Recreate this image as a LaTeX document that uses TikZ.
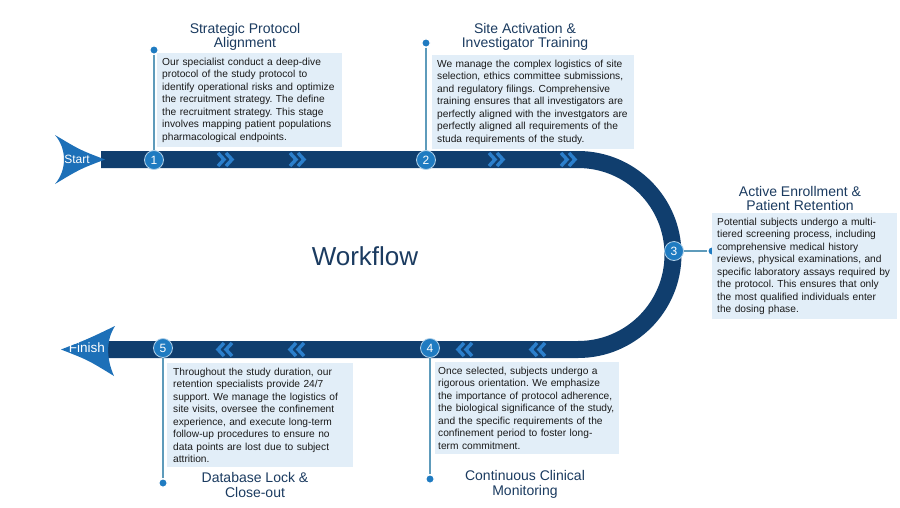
\documentclass[tikz,border=0pt]{standalone}
\usepackage{fontspec}
\setmainfont{Liberation Sans}
\usetikzlibrary{calc}
\frenchspacing

\definecolor{bandnavy}{HTML}{103E6E}
\definecolor{chevblue}{HTML}{2B7FCC}
\definecolor{markblue}{HTML}{1F7BC1}
\definecolor{arrowblue}{HTML}{1D70B8}
\definecolor{boxfill}{HTML}{E2EEF8}
\definecolor{titlenavy}{HTML}{1B3B60}
\definecolor{stalkblue}{HTML}{5E9BBB}
\definecolor{bodytext}{HTML}{1A1A1A}

\begin{document}
\begin{tikzpicture}[x=1pt, y=-1pt,
    band/.style={draw=bandnavy, line width=17pt},
    chev/.style={draw=chevblue, line width=3.4pt},
    stalk/.style={draw=stalkblue, line width=1.3pt},
    marker/.style={circle, fill=markblue, draw=white!65!markblue, line width=0.8pt,
        minimum size=19pt, inner sep=0pt, text=white, font=\fontsize{12}{12}\selectfont},
    pin/.style={circle, fill=markblue, draw=white, line width=1.2pt, minimum size=8.5pt, inner sep=0pt},
    stepbox/.style={fill=boxfill, anchor=north west, align=left, inner xsep=5pt, inner ysep=4.5pt,
        text=bodytext, font=\fontsize{10.2}{12.5}\selectfont},
    steptitle/.style={align=center, text=titlenavy, font=\fontsize{14}{14.5}\selectfont},
    tip/.style={fill=arrowblue, draw=none}]
    % Canvas
    \fill[white] (0,0) rectangle (900,507);
    \useasboundingbox (0,0) rectangle (900,507);

    % Track
    \draw[band] (101,159.5) -- (578,159.5) arc[start angle=90, end angle=-90, radius=95pt] -- (105,349.5);

    % Chevrons
    \foreach \cx in {226,298,497,569} {
        \draw[chev] (\cx-8,153) -- (\cx-2,159.5) -- (\cx-8,166);
        \draw[chev] (\cx,153) -- (\cx+6,159.5) -- (\cx,166);
    }
    \foreach \cx in {224,296,464,537} {
        \draw[chev] (\cx+8,343) -- (\cx+2,349.5) -- (\cx+8,356);
        \draw[chev] (\cx,343) -- (\cx-6,349.5) -- (\cx,356);
    }

    % Start and finish
    \fill[tip] (55,135) .. controls (80,150) .. (105,159.5) .. controls (80,169) .. (55,184)
        .. controls (67,170) and (67,149) .. (55,135);
    \node[text=white, font=\fontsize{12}{12}\selectfont] (start) at (77,159) {Start};
    \fill[tip] (115,326) .. controls (106,340) and (106,358) .. (114,376)
        .. controls (88,360) .. (61,349.5) .. controls (88,339) .. (115,326);
    \node[text=white, font=\fontsize{13.5}{13.5}\selectfont] (finish) at (87,348) {Finish};

    % Pins
    \node[pin] (d1) at (154,50) {};
    \node[pin] (d2) at (426,43) {};
    \node[pin] (d3) at (712,251) {};
    \node[pin] (d4) at (430,479) {};
    \node[pin] (d5) at (163,483) {};

    % Markers
    \node[marker] (m1) at (154,160) {1};
    \node[marker] (m2) at (426,160) {2};
    \node[marker] (m3) at (674,251) {3};
    \node[marker] (m4) at (430,348) {4};
    \node[marker] (m5) at (163,348) {5};

    % Stalks
    \draw[stalk] (d1) -- (m1);
    \draw[stalk] (d2) -- (m2);
    \draw[stalk] (m3) -- (d3);
    \draw[stalk] (m4) -- (d4);
    \draw[stalk] (m5) -- (d5);

    % Step 1
    \node[steptitle] (t1) at (245,37) {Strategic Protocol\\Alignment};
    \node[stepbox, text width=175pt] (b1) at (157,53) {Our specialist conduct a deep-dive\\
        protocol of the study protocol to\\
        identify operational risks and optimize\\
        the recruitment strategy. The define\\
        the recruitment strategy. This stage\\
        involves mapping patient populations\\
        pharmacological endpoints.};

    % Step 2
    \node[steptitle] (t2) at (525,37) {Site Activation \&\\Investigator Training};
    \node[stepbox, text width=192pt] (b2) at (432,55) {We manage the complex logistics of site\\
        selection, ethics committee submissions,\\
        and regulatory filings. Comprehensive\\
        training ensures that all investigators are\\
        perfectly aligned with the investgators are\\
        perfectly aligned all requirements of the\\
        studa requirements of the study.};

    % Step 3
    \node[steptitle] (t3) at (800,198.5) {Active Enrollment \&\\Patient Retention};
    \node[stepbox, text width=175pt] (b3) at (712,213) {Potential subjects undergo a multi-\\
        tiered screening process, including\\
        comprehensive medical history\\
        reviews, physical examinations, and\\
        specific laboratory assays required by\\
        the protocol. This ensures that only\\
        the most qualified individuals enter\\
        the dosing phase.};

    % Step 4
    \node[stepbox, text width=178pt, inner xsep=3pt] (b4) at (435,362) {Once selected, subjects undergo a\\
        rigorous orientation. We emphasize\\
        the importance of protocol adherence,\\
        the biological significance of the study,\\
        and the specific requirements of the\\
        confinement period to foster long-\\
        term commitment.};
    \node[steptitle] (t4) at (525,484.5) {Continuous Clinical\\Monitoring};

    % Step 5
    \node[stepbox, text width=174pt, inner xsep=6pt] (b5) at (167,363) {Throughout the study duration, our\\
        retention specialists provide 24/7\\
        support. We manage the logistics of\\
        site visits, oversee the confinement\\
        experience, and execute long-term\\
        follow-up procedures to ensure no\\
        data points are lost due to subject\\
        attrition.};
    \node[steptitle] (t5) at (255,485) {Database Lock \&\\Close-out};

    % Centre label
    \node[text=titlenavy, font=\fontsize{26}{26}\selectfont] (wf) at (365,256) {Workflow};
\end{tikzpicture}
\end{document}
